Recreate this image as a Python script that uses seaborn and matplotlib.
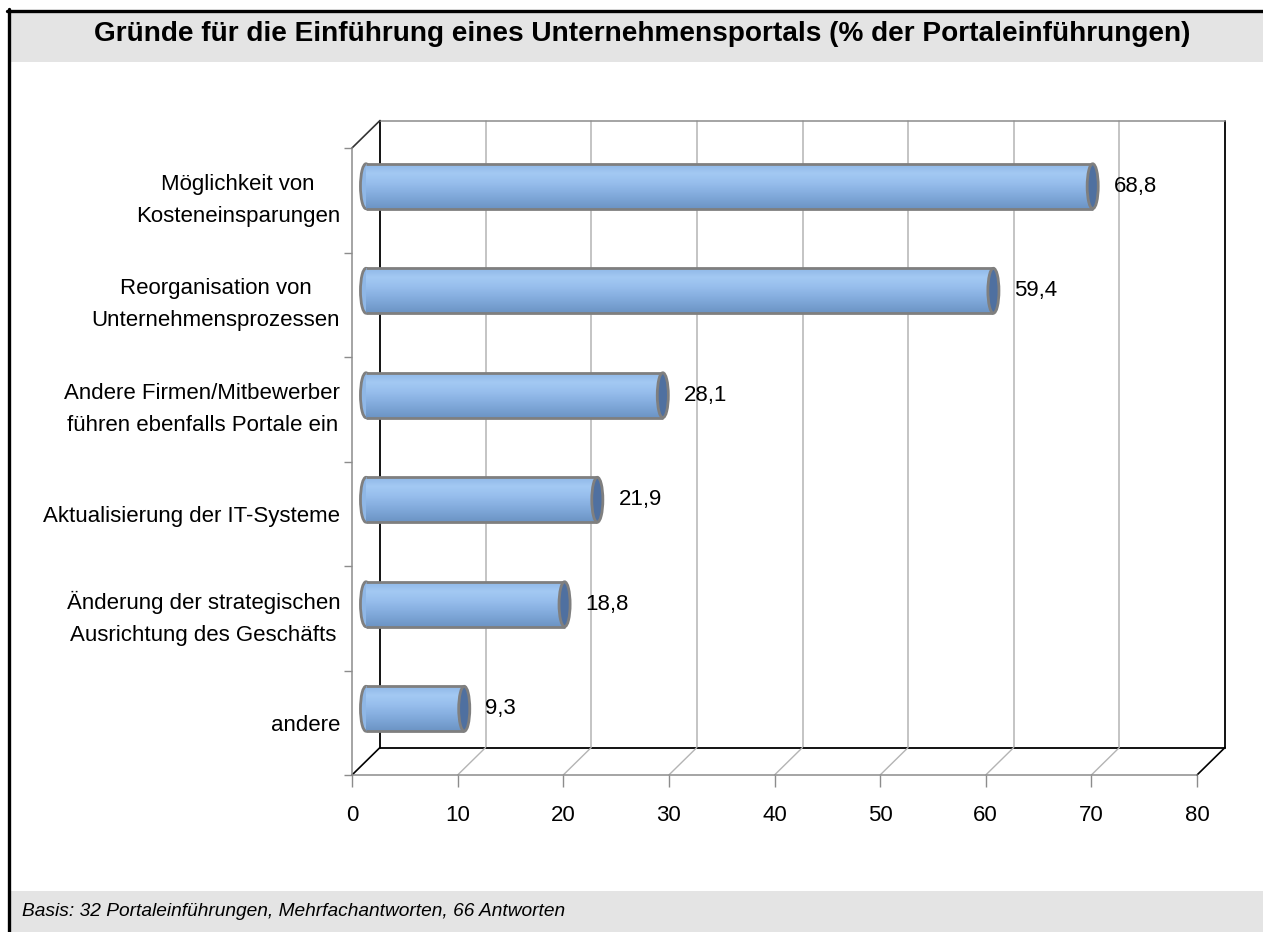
import numpy as np
import pandas as pd
import matplotlib
matplotlib.use("Agg")
import matplotlib.pyplot as plt
import matplotlib.transforms as mtransforms
from matplotlib.patches import Ellipse, Rectangle, ConnectionPatch
from matplotlib.lines import Line2D
from matplotlib import font_manager
import seaborn as sns

# ---------------- data ----------------
categories = [
    "Möglichkeit von\nKosteneinsparungen",
    "Reorganisation von\nUnternehmensprozessen",
    "Andere Firmen/Mitbewerber\nführen ebenfalls Portale ein",
    "Aktualisierung der IT-Systeme",
    "Änderung der strategischen\nAusrichtung des Geschäfts",
    "andere",
]
values = [68.8, 59.4, 28.1, 21.9, 18.8, 9.3]
value_labels = ["68,8", "59,4", "28,1", "21,9", "18,8", "9,3"]
x_ticks = [0, 10, 20, 30, 40, 50, 60, 70, 80]
title = "Gründe für die Einführung eines Unternehmensportals (% der Portaleinführungen)"
footer = "Basis: 32 Portaleinführungen, Mehrfachantworten, 66 Antworten"

df = pd.DataFrame({"reason": categories, "pct": values})

sns.set_theme(style="white")

def has_font(name):
    try:
        font_manager.findfont(name, fallback_to_default=False)
        return True
    except Exception:
        return False

narrow = "Liberation Sans Narrow" if has_font("Liberation Sans Narrow") else "Liberation Sans"
lab_size = 18 if narrow == "Liberation Sans Narrow" else 16
plt.rcParams["font.family"] = ["Liberation Sans", "DejaVu Sans"]
plt.rcParams["text.color"] = "black"
plt.rcParams["xtick.color"] = "black"
plt.rcParams["ytick.color"] = "black"

W, H = 1263, 932
fig = plt.figure(figsize=(W / 100, H / 100), dpi=100)
fig.patch.set_facecolor("white")

# front plane of the 3D box
x0p, x1p, ytp, ybp = 352, 1197, 148, 775
ax = fig.add_axes([x0p / W, (H - ybp) / H, (x1p - x0p) / W, (ybp - ytp) / H])
ax.set_facecolor("none")

sns.barplot(data=df, x="pct", y="reason", orient="h", ax=ax, width=0.43,
            color="#8db4e3", linewidth=0, saturation=1, zorder=3)

ax.set_xlim(0, 80)
ax.set_ylim(5.5, -0.5)

# depth offsets
back = ax.transData + mtransforms.ScaledTranslation(0.28, 0.275, fig.dpi_scale_trans)
mid = ax.transData + mtransforms.ScaledTranslation(0.14, 0.14, fig.dpi_scale_trans)

grid_c = "#b4b4b4"
# back wall gridlines
for t in x_ticks[1:-1]:
    ax.plot([t, t], [-0.5, 5.5], color=grid_c, lw=1.1, transform=back, zorder=0.5,
            clip_on=False)
ax.plot([0, 0], [-0.5, 5.5], color="black", lw=1.3, transform=back, zorder=0.6, clip_on=False)
ax.plot([80, 80], [-0.5, 5.5], color="black", lw=1.3, transform=back, zorder=0.6, clip_on=False)
ax.plot([0, 80], [5.5, 5.5], color="black", lw=1.3, transform=back, zorder=0.6, clip_on=False)
ax.plot([0, 80], [-0.5, -0.5], color="#8c8c8c", lw=1.1, transform=back, zorder=0.6,
        clip_on=False)

# diagonals (floor and left wall top)
def diag(x, y, color, lw):
    cp = ConnectionPatch(xyA=(x, y), coordsA=ax.transData, xyB=(x, y), coordsB=back,
                         color=color, lw=lw, zorder=0.7)
    ax.add_artist(cp)

for t in x_ticks:
    c = "black" if t in (0, 80) else grid_c
    diag(t, 5.5, c, 1.2 if t in (0, 80) else 1.0)
diag(0, -0.5, "#333333", 1.2)

# bars as cylinders
edge_c = "#7f7f7f"
grad_cols = matplotlib.colors.LinearSegmentedColormap.from_list(
    "cyl", ["#90b8e7", "#a3c9f3", "#98bfed", "#89b1e2", "#7aa3d4", "#6c94c4"])
grad = np.linspace(0, 1, 64).reshape(-1, 1)
cap_w = 1.05
for p, v, lab in zip(ax.patches, values, value_labels):
    p.set_transform(mid)
    p.set_clip_on(False)
    y0 = p.get_y()
    h = p.get_height()
    yc = y0 + h / 2
    # left rounded end
    left = Ellipse((0, yc), cap_w, h, transform=mid, facecolor="#8fb7e6",
                   edgecolor=edge_c, lw=2.0, zorder=2.8, clip_on=False)
    ax.add_patch(left)
    im = ax.imshow(grad, cmap=grad_cols, extent=(0, v, y0 + h, y0), aspect="auto",
                   origin="upper", zorder=3.1, interpolation="bilinear")
    im.set_transform(mid)
    im.set_clip_path(p)
    ax.plot([0, v], [y0, y0], color=edge_c, lw=2.0, transform=mid, zorder=3.2,
            solid_capstyle="butt", clip_on=False)
    ax.plot([0, v], [y0 + h, y0 + h], color=edge_c, lw=2.0, transform=mid, zorder=3.2,
            solid_capstyle="butt", clip_on=False)
    cap = Ellipse((v, yc), cap_w, h, transform=mid, facecolor="#4f70a0",
                  edgecolor=edge_c, lw=2.0, zorder=3.3, clip_on=False)
    ax.add_patch(cap)
    ax.text(v + 2.0, yc, lab, transform=mid, ha="left", va="center",
            fontsize=lab_size, family=narrow, color="black", zorder=4)

ax.set_xlim(0, 80)
ax.set_ylim(5.5, -0.5)
ax.set_xlabel("")
ax.set_ylabel("")

# spines / ticks
for s in ["top", "right"]:
    ax.spines[s].set_visible(False)
for s in ["left", "bottom"]:
    ax.spines[s].set_visible(True)
    ax.spines[s].set_color("#8c8c8c")
    ax.spines[s].set_linewidth(1.1)
    ax.spines[s].set_zorder(0.7)

ax.set_xticks(x_ticks)
ax.set_xticklabels([str(t) for t in x_ticks], family=narrow, fontsize=lab_size, color="black")
ax.tick_params(axis="x", direction="out", length=8.5, width=1.0, color="#8c8c8c",
               pad=13, bottom=True)
ax.set_yticks(range(len(categories)))
ax.set_yticklabels(categories, family=narrow, fontsize=lab_size, multialignment="center",
                   linespacing=1.7, color="black")
for tl in ax.get_yticklabels():
    if "\n" in tl.get_text():
        tl.set_verticalalignment("center")
ax.tick_params(axis="y", which="major", length=0, pad=8.5, left=True)
ax.set_yticks(np.arange(-0.5, 6.0, 1.0), minor=True)
ax.tick_params(axis="y", which="minor", direction="out", length=6, width=1.0,
               color="#8c8c8c", left=True)
ax.grid(False)

# title and footer bands
fig.add_artist(Rectangle((10 / W, 1 - 62 / H), 1 - 10 / W, 50 / H, transform=fig.transFigure,
                         facecolor="#e4e4e4", edgecolor="none", zorder=0))
fig.add_artist(Rectangle((10 / W, 0), 1 - 10 / W, (H - 891) / H, transform=fig.transFigure,
                         facecolor="#e4e4e4", edgecolor="none", zorder=0))
fig.text(642 / W, 1 - 34 / H, title, ha="center", va="center", fontsize=20.2,
         fontweight="bold", color="black", family=["Liberation Sans", "DejaVu Sans"])
fig.text(22 / W, (H - 912) / H, footer, ha="left", va="center", fontsize=13.8,
         style="italic", color="black", family=["Liberation Sans", "DejaVu Sans"])
# frame lines
fig.add_artist(Line2D([8.5 / W, 8.5 / W], [0, 1 - 9 / H], transform=fig.transFigure,
                      color="black", lw=2.4))
fig.add_artist(Line2D([7 / W, 1], [1 - 10.5 / H, 1 - 10.5 / H], transform=fig.transFigure,
                      color="black", lw=2.4))

fig.savefig("out.png", dpi=100, facecolor="white")
